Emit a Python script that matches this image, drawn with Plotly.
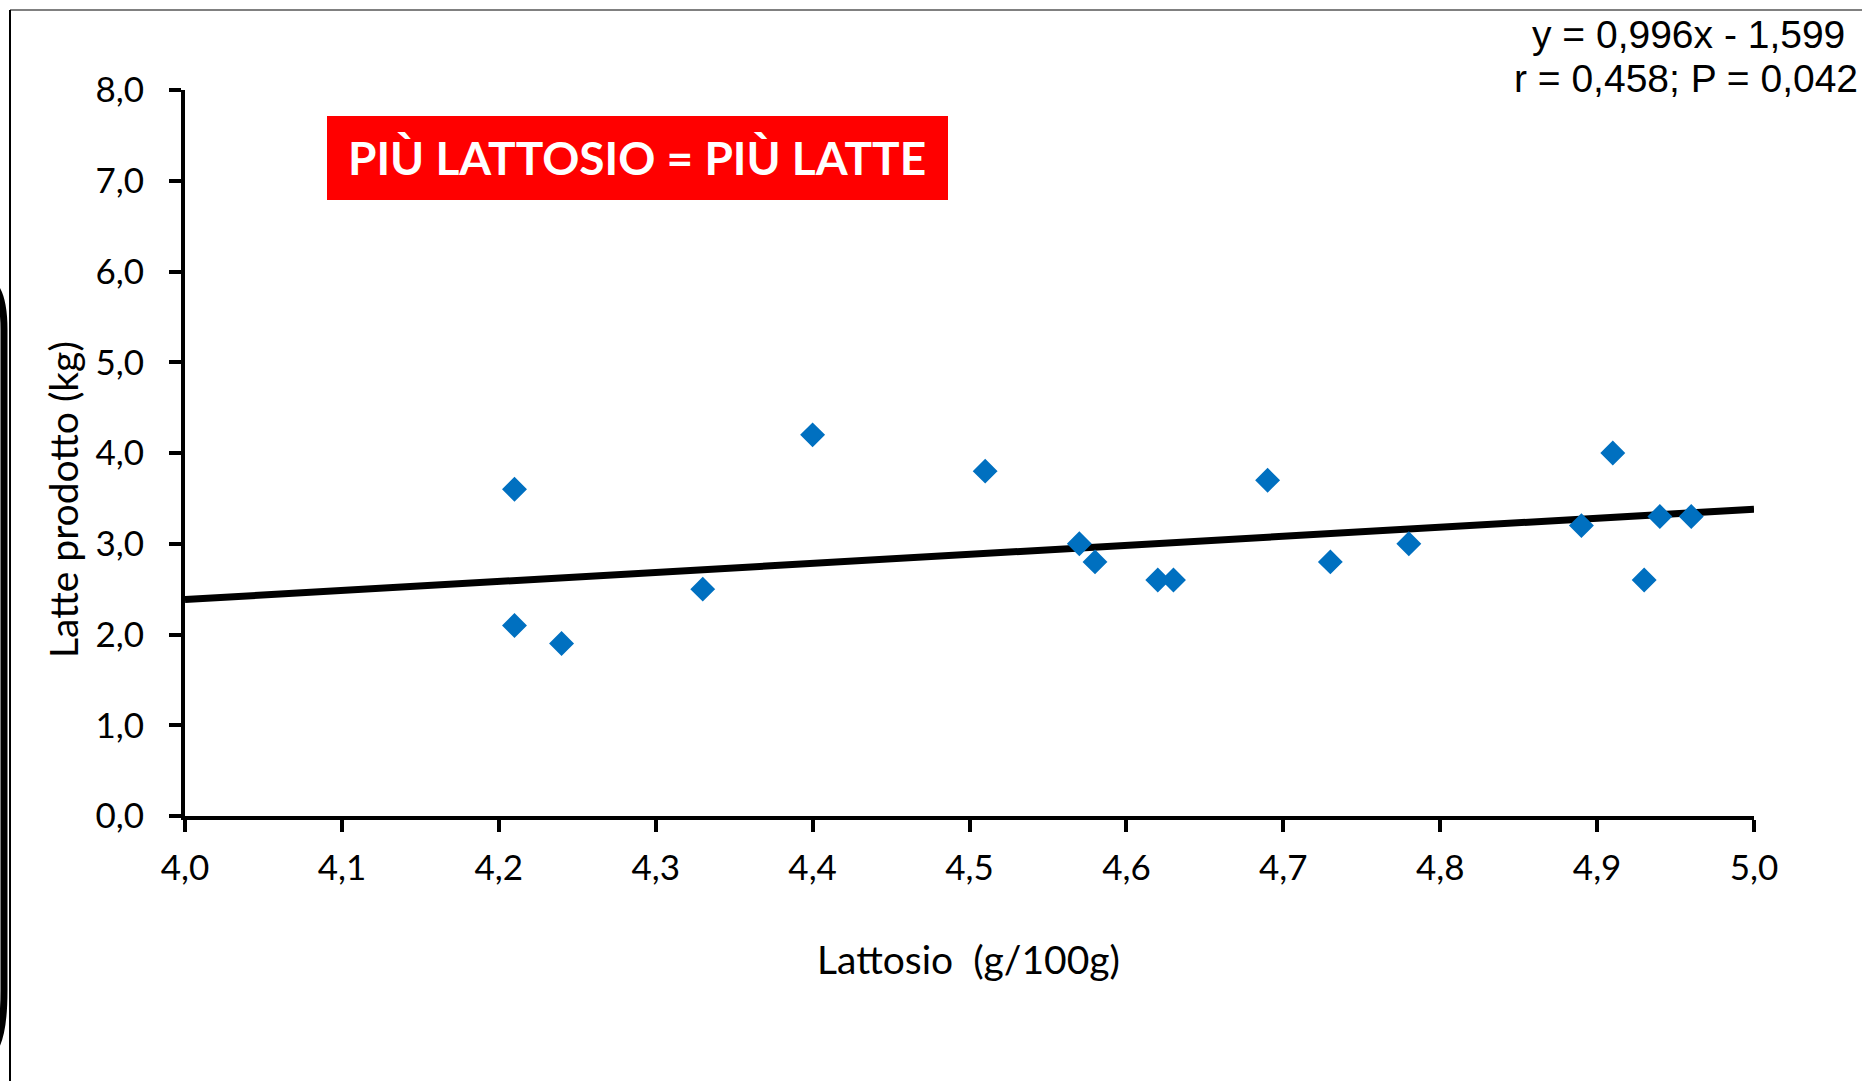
import plotly.graph_objects as go

# Data
lattosio = [4.21, 4.21, 4.24, 4.33, 4.40, 4.51, 4.57, 4.58, 4.62, 4.63,
            4.69, 4.73, 4.78, 4.89, 4.91, 4.93, 4.94, 4.96]
latte = [3.6, 2.1, 1.9, 2.5, 4.2, 3.8, 3.0, 2.8, 2.6, 2.6,
         3.7, 2.8, 3.0, 3.2, 4.0, 2.6, 3.3, 3.3]
slope = 0.996
intercept = -1.599
trend_x = [4.0, 5.0]
trend_y = [slope * x + intercept for x in trend_x]
x_ticks = [4.0, 4.1, 4.2, 4.3, 4.4, 4.5, 4.6, 4.7, 4.8, 4.9, 5.0]
y_ticks = [0, 1, 2, 3, 4, 5, 6, 7, 8]

W, H = 1862, 1081
L, R, T, B = 185, 108, 90, 265
pw, ph = W - L - R, H - T - B

def px(xp):
    return (xp - L) / pw

def py(yp):
    return (H - B - yp) / ph

fig = go.Figure()
fig.add_trace(go.Scatter(x=trend_x, y=trend_y, mode="lines",
                         line=dict(color="black", width=7), showlegend=False))
fig.add_trace(go.Scatter(x=lattosio, y=latte, mode="markers",
                         marker=dict(symbol="diamond", size=17, color="#0070C0",
                                     line=dict(color="#0070C0", width=2)),
                         showlegend=False))

axis_common = dict(showgrid=False, zeroline=False, showline=True, linecolor="black",
                   linewidth=4, ticks="outside", ticklen=12, tickwidth=4,
                   tickcolor="black", tickfont=dict(family="Lato", size=35, color="black"),
                   tickformat=".1f")
fig.update_xaxes(range=[4.0, 5.0], tickvals=x_ticks, ticklabelstandoff=6, **axis_common)
fig.update_yaxes(range=[0, 8], tickvals=y_ticks, ticklabelstandoff=18, **axis_common)

shapes = [
    # red title box
    dict(type="rect", xref="paper", yref="paper", x0=px(327), x1=px(948),
         y0=py(200), y1=py(116), fillcolor="#FF0000", line=dict(width=0), layer="below"),
    # top gray border
    dict(type="line", xref="paper", yref="paper", x0=px(10), x1=px(W),
         y0=py(10), y1=py(10), line=dict(color="#808080", width=2)),
    # left thin border
    dict(type="line", xref="paper", yref="paper", x0=px(10), x1=px(10),
         y0=py(10), y1=py(H), line=dict(color="black", width=2)),
]
# thick rounded edge at far left (pixel path converted to paper)
path = (f"M {px(-40)},{py(279)} L {px(-20)},{py(279)} "
        f"Q {px(4)},{py(279)} {px(4)},{py(330)} "
        f"L {px(4)},{py(990)} Q {px(4)},{py(1030)} {px(-4)},{py(1046)}")
shapes.append(dict(type="path", xref="paper", yref="paper", path=path,
                   line=dict(color="black", width=7)))

annotations = [
    dict(text="<b>PIÙ LATTOSIO = PIÙ LATTE</b>", xref="paper", yref="paper",
         x=px(637), y=py(158), showarrow=False, xanchor="center", yanchor="middle",
         font=dict(family="Lato", size=46, color="white")),
    dict(text="y = 0,996x - 1,599", xref="paper", yref="paper", x=px(1847), y=py(34),
         showarrow=False, xanchor="right", yanchor="middle",
         font=dict(family="Liberation Sans", size=39, color="black")),
    dict(text="r = 0,458; P = 0,042", xref="paper", yref="paper", x=px(1860), y=py(78),
         showarrow=False, xanchor="right", yanchor="middle",
         font=dict(family="Liberation Sans", size=39, color="black")),
    dict(text="Lattosio  (g/100g)", xref="paper", yref="paper", x=px(968), y=py(959),
         showarrow=False, xanchor="center", yanchor="middle",
         font=dict(family="Lato", size=39, color="black")),
    dict(text="Latte prodotto (kg)", xref="paper", yref="paper", x=px(63), y=py(500),
         showarrow=False, xanchor="center", yanchor="middle", textangle=-90,
         font=dict(family="Lato", size=39, color="black")),
]

fig.update_layout(width=W, height=H, margin=dict(l=L, r=R, t=T, b=B, autoexpand=False),
                  paper_bgcolor="white", plot_bgcolor="white", separators=",.",
                  shapes=shapes, annotations=annotations)

fig.write_html("out.html", config={"displayModeBar": False},
               post_script="document.body.style.margin='0';document.body.style.overflow='hidden';")
